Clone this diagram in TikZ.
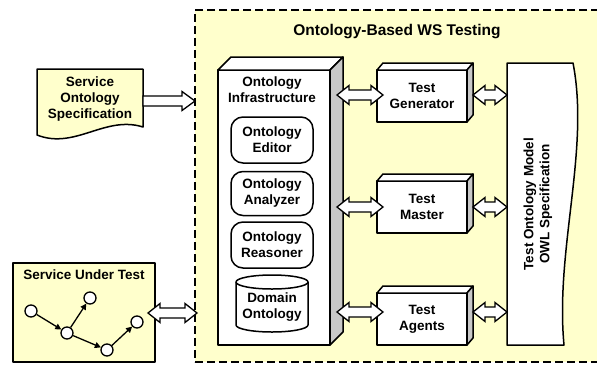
\documentclass[tikz,border=0pt]{standalone}
\usepackage{fontspec}
\setmainfont{Liberation Sans}
\usetikzlibrary{calc,arrows.meta}
\definecolor{bgyellow}{HTML}{FFFFCC}
\definecolor{sidegray}{HTML}{C8C8C8}
\newcommand\threedbox[3]{%
  \draw[boxline, fill=white] (#1.north west) -- ++(#2,-#3) -- ($(#1.north east)+(#2,-#3)$) -- (#1.north east) -- cycle;
  \draw[boxline, fill=sidegray] (#1.north east) -- ($(#1.north east)+(#2,-#3)$) -- ($(#1.south east)+(#2,-#3)$) -- (#1.south east) -- cycle;}
\begin{document}
\begin{tikzpicture}[x=1pt,y=-1pt,
  txt/.style={font=\bfseries\fontsize{13.5}{16}\selectfont, align=center, inner sep=0pt},
  boxline/.style={draw=black, line width=1.5pt, line join=round},
  frontbox/.style={boxline, fill=white, outer sep=0pt, minimum width=90pt, minimum height=52pt, txt},
  roundbox/.style={boxline, fill=white, rounded corners=12pt, outer sep=0pt, minimum width=82pt, minimum height=46pt, txt},
  gnode/.style={circle, draw=black, fill=white, line width=1.3pt, minimum size=12pt, inner sep=0pt},
  gedge/.style={line width=1.3pt, -{Triangle[length=6pt,width=6pt]}},
  dblarrow/.style={draw=black, line width=1.3pt, fill=white, line join=miter,
    to path={let \p1=(\tikztostart), \p2=(\tikztotarget) in
      (\x1,\y1) -- (\x1+12pt,\y1-9.5pt) -- (\x1+12pt,\y1-5pt) -- (\x2-12pt,\y1-5pt) -- (\x2-12pt,\y1-9.5pt)
      -- (\x2,\y1) -- (\x2-12pt,\y1+9.5pt) -- (\x2-12pt,\y1+5pt) -- (\x1+12pt,\y1+5pt) -- (\x1+12pt,\y1+9.5pt) -- cycle}},
  sglarrow/.style={draw=black, line width=1.3pt, fill=white, line join=miter,
    to path={let \p1=(\tikztostart), \p2=(\tikztotarget) in
      (\x1,\y1+5pt) -- (\x2-13pt,\y1+5pt) -- (\x2-13pt,\y1+9.5pt) -- (\x2,\y1)
      -- (\x2-13pt,\y1-9.5pt) -- (\x2-13pt,\y1-5pt) -- (\x1,\y1-5pt) -- cycle}}
]
\useasboundingbox (0,0) rectangle (597,365);
\fill[white] (0,0) rectangle (597,365);

% container
\node[draw=black, fill=bgyellow, line width=1.5pt, dash pattern=on 8pt off 4pt, outer sep=0pt,
  minimum width=410pt, minimum height=352pt] (frame) at (400,186) {};
\node[font=\bfseries\fontsize{15.5}{18}\selectfont, inner sep=0pt] (title) at (397,32) {Ontology-Based WS Testing};

% service ontology specification document
\draw[boxline, fill=bgyellow] (37,69) -- (143,69) -- (143,127) .. controls (105,115) and (75,150) .. (37,135) -- cycle;
\node[txt] (soslabel) at (90,99) {Service\\Ontology\\Specification};
\coordinate (docR) at (143,101);
\draw[sglarrow] (docR) to (frame.west |- docR);

% service under test
\node[boxline, fill=bgyellow, outer sep=0pt, minimum width=142pt, minimum height=99pt] (sut) at (84,312.5) {};
\node[txt] (sutlabel) at (84,275) {Service Under Test};
\node[gnode] (n1) at (31,311) {};
\node[gnode] (n2) at (67,333) {};
\node[gnode] (n3) at (90,298) {};
\node[gnode] (n4) at (107,350) {};
\node[gnode] (n5) at (137,322) {};
\draw[gedge] (n1) -- (n2);
\draw[gedge] (n2) -- (n3);
\draw[gedge] (n2) -- (n4);
\draw[gedge] (n4) -- (n5);
\draw[dblarrow] ($(sut.east)+(-7,0.5)$) to ($(frame.west)+(2,0)$);

% ontology infrastructure
\node[boxline, fill=white, outer sep=0pt, minimum width=112pt, minimum height=275pt] (infra) at (274,207.5) {};
\threedbox{infra}{13}{13}
\node[txt] (infralabel) at (272,90) {Ontology\\Infrastructure};
\node[roundbox] (editor) at (272,140) {Ontology\\Editor};
\node[roundbox, minimum height=44pt] (analyzer) at (272,193.5) {Ontology\\Analyzer};
\node[roundbox] (reasoner) at (272,245) {Ontology\\Reasoner};
\draw[boxline, fill=white] (236,282) -- (236,325) arc[start angle=180, end angle=0, x radius=36, y radius=7]
  -- (308,282) arc[start angle=0, end angle=-180, x radius=36, y radius=7] -- cycle;
\draw[boxline] (236,282) arc[start angle=180, end angle=0, x radius=36, y radius=7];
\node[txt] (domain) at (272,307.5) {Domain\\Ontology};

% test boxes
\node[frontbox] (gen) at (422,96) {Test\\Generator};
\threedbox{gen}{6}{7}
\node[frontbox] (master) at (422,207) {Test\\Master};
\threedbox{master}{6}{7}
\node[frontbox] (agents) at (422,319) {Test\\Agents};
\threedbox{agents}{6}{7}

% OWL document
\draw[boxline, fill=white] (507,63) -- (573,63) .. controls (590,150) and (555,250) .. (564,345) -- (507,345) -- cycle;
\coordinate (owlW) at (507,204);
\node[txt, rotate=90] (owltext) at (538,204) {Test Ontology Model\\OWL Specification};

% double arrows
\draw[dblarrow] ($(infra.east |- gen.west)+(7,-1)$) to ($(gen.west)+(6,0)$);
\draw[dblarrow] ($(infra.east |- master.west)+(7,0)$) to ($(master.west)+(6,0)$);
\draw[dblarrow] ($(infra.east |- agents.west)+(7,-7)$) to ($(agents.west)+(6,0)$);
\draw[dblarrow] ($(gen.east)+(6,-1)$) to (owlW);
\draw[dblarrow] ($(master.east)+(6,0)$) to (owlW);
\draw[dblarrow] ($(agents.east)+(6,-7)$) to (owlW);
\end{tikzpicture}
\end{document}
